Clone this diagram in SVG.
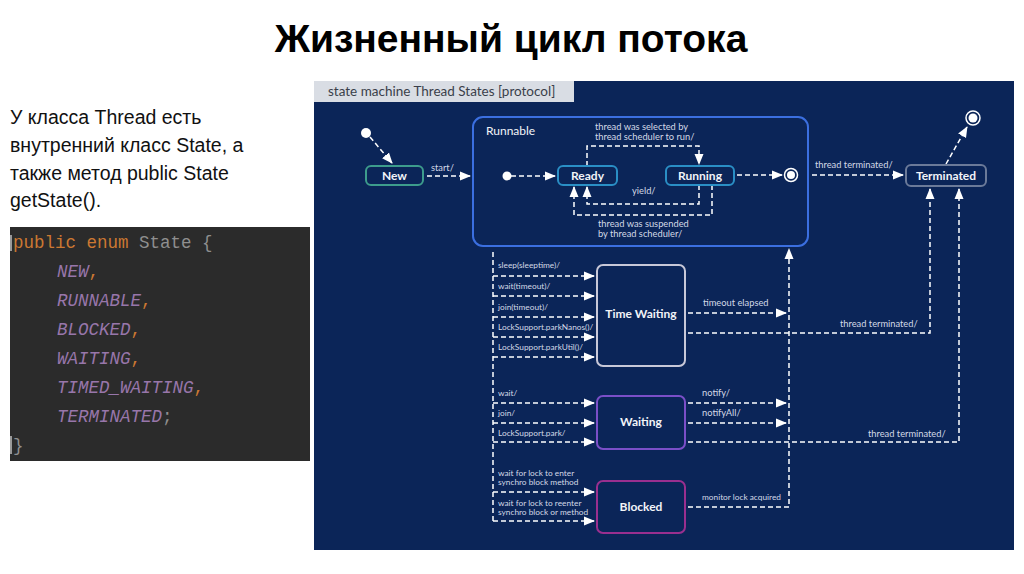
<svg xmlns="http://www.w3.org/2000/svg" width="1024" height="574" viewBox="0 0 1024 574">
<defs>
<marker id="ah" markerUnits="userSpaceOnUse" markerWidth="11" markerHeight="10" refX="10" refY="5" orient="auto">
<path d="M0,0.5 L11,5 L0,9.5 Z" fill="#ffffff"/>
</marker>
<style>
.title{font-family:"Liberation Sans",Arial,sans-serif;font-weight:bold;font-size:39px;fill:#000}
.desc{font-family:"Liberation Sans",Arial,sans-serif;font-size:19.5px;fill:#111}
.code{font-family:"Liberation Mono","DejaVu Sans Mono",monospace;font-size:17.5px}
.kw{fill:#cc7832}
.id{fill:#8f8f8f}
.en{fill:#9876aa;font-style:italic}
.pn{fill:#cc7832}
.tab{font-family:Lato,"Liberation Sans",sans-serif;font-size:13.5px;fill:#3a3f4a}
.node{font-family:Lato,"Liberation Sans",sans-serif;font-weight:bold;font-size:12px;fill:#f2f4f8;text-anchor:middle}
.lbl{font-family:Lato,"Liberation Sans",sans-serif;font-size:9.3px;fill:#d3d9e6}
.sm{font-family:Lato,"Liberation Sans",sans-serif;font-size:8.3px;fill:#d3d9e6}
.box{fill:#0b2558;stroke-width:2}
.conn{fill:none;stroke:#ffffff;stroke-width:1.5;stroke-dasharray:5 3}
</style>
</defs>
<rect width="1024" height="574" fill="#ffffff"/>
<text class="title" x="511" y="52" text-anchor="middle">Жизненный цикл потока</text>

<g id="description">
<text class="desc" x="10" y="124">У класса Thread есть</text>
<text class="desc" x="10" y="152">внутренний класс State, а</text>
<text class="desc" x="10" y="180">также метод public State</text>
<text class="desc" x="10" y="207">getState().</text>
</g>

<g id="code">
<rect x="10" y="227" width="300" height="234" fill="#2b2b2b"/>
<rect x="10" y="235" width="2" height="16" fill="#9a9a9a"/>
<rect x="10" y="436" width="2" height="18" fill="#9a9a9a"/>
<text class="code" x="13" y="248"><tspan class="kw">public enum </tspan><tspan class="id">State {</tspan></text>
<text class="code" x="57" y="277"><tspan class="en">NEW</tspan><tspan class="pn">,</tspan></text>
<text class="code" x="57" y="306"><tspan class="en">RUNNABLE</tspan><tspan class="pn">,</tspan></text>
<text class="code" x="57" y="335"><tspan class="en">BLOCKED</tspan><tspan class="pn">,</tspan></text>
<text class="code" x="57" y="364"><tspan class="en">WAITING</tspan><tspan class="pn">,</tspan></text>
<text class="code" x="57" y="393"><tspan class="en">TIMED_WAITING</tspan><tspan class="pn">,</tspan></text>
<text class="code" x="57" y="422"><tspan class="en">TERMINATED</tspan><tspan class="id">;</tspan></text>
<text class="code" x="13" y="451"><tspan class="id">}</tspan></text>
</g>

<g id="panel">
<rect x="314" y="81" width="700" height="469" fill="#0b2558"/>
<rect x="314" y="81" width="260" height="21" fill="#d9dde4"/>
<text class="tab" x="328" y="96">state machine Thread States [protocol]</text>
</g>

<g id="connectors">
<path class="conn" marker-end="url(#ah)" d="M370,137 L392,163"/>
<path class="conn" marker-end="url(#ah)" d="M427,176 H470"/>
<path class="conn" marker-end="url(#ah)" d="M511,176 H555"/>
<path class="conn" marker-end="url(#ah)" d="M587,166 V146 H699 V164"/>
<path class="conn" marker-end="url(#ah)" d="M699,185 V204 H587 V187"/>
<path class="conn" marker-end="url(#ah)" d="M712,185 V215 H574 V187"/>
<path class="conn" marker-end="url(#ah)" d="M737,175 H782"/>
<path class="conn" marker-end="url(#ah)" d="M812,175 H903"/>
<path class="conn" marker-end="url(#ah)" d="M946,164 L967,127"/>
<path class="conn" d="M493,252 V522"/>
<path class="conn" marker-end="url(#ah)" d="M493,276 H594"/>
<path class="conn" marker-end="url(#ah)" d="M493,296 H594"/>
<path class="conn" marker-end="url(#ah)" d="M493,317 H594"/>
<path class="conn" marker-end="url(#ah)" d="M493,337 H594"/>
<path class="conn" marker-end="url(#ah)" d="M493,357 H594"/>
<path class="conn" marker-end="url(#ah)" d="M493,403 H594"/>
<path class="conn" marker-end="url(#ah)" d="M493,423 H594"/>
<path class="conn" marker-end="url(#ah)" d="M493,442 H594"/>
<path class="conn" marker-end="url(#ah)" d="M493,492 H594"/>
<path class="conn" marker-end="url(#ah)" d="M493,521 H594"/>
<path class="conn" marker-end="url(#ah)" d="M688,313 H786"/>
<path class="conn" marker-end="url(#ah)" d="M688,403 H786"/>
<path class="conn" marker-end="url(#ah)" d="M688,423 H786"/>
<path class="conn" marker-end="url(#ah)" d="M688,507 H789 V249"/>
<path class="conn" marker-end="url(#ah)" d="M688,333 H930 V189"/>
<path class="conn" marker-end="url(#ah)" d="M688,442 H959 V189"/>
<text class="lbl" x="431" y="171">start/</text>
<text class="lbl" x="595" y="130">thread was selected by</text>
<text class="lbl" x="595" y="139.5">thread scheduler to run/</text>
<text class="lbl" x="632" y="194">yield/</text>
<text class="lbl" x="598" y="227">thread was suspended</text>
<text class="lbl" x="598" y="236.5">by thread scheduler/</text>
<text class="lbl" x="815" y="168">thread terminated/</text>
<text class="sm" x="498" y="268">sleep(sleeptime)/</text>
<text class="sm" x="498" y="289">wait(timeout)/</text>
<text class="sm" x="498" y="310">join(timeout)/</text>
<text class="sm" x="498" y="330">LockSupport.parkNanos()/</text>
<text class="sm" x="498" y="350">LockSupport.parkUtil()/</text>
<text class="sm" x="498" y="396">wait/</text>
<text class="sm" x="498" y="416">join/</text>
<text class="sm" x="498" y="436">LockSupport.park/</text>
<text class="sm" x="498" y="476">wait for lock to enter</text>
<text class="sm" x="498" y="485">synchro block method</text>
<text class="sm" x="498" y="506">wait for lock to reenter</text>
<text class="sm" x="498" y="515">synchro block or method</text>
<text class="lbl" x="703" y="306">timeout elapsed</text>
<text class="lbl" x="840" y="327">thread terminated/</text>
<text class="lbl" x="702" y="396">notify/</text>
<text class="lbl" x="702" y="416">notifyAll/</text>
<text class="lbl" x="868" y="437">thread terminated/</text>
<text class="sm" x="702" y="500">monitor lock acquired</text>
</g>

<g id="initial-new"><circle cx="366" cy="133" r="5" fill="#ffffff"/></g>
<g id="new"><rect class="box" x="366" y="166" width="57" height="19" rx="5" stroke="#3d9c8c"/><text class="node" x="394.5" y="180">New</text></g>
<g id="runnable"><rect x="473" y="117" width="335" height="129" rx="10" fill="none" stroke="#3b6fe0" stroke-width="2"/><text class="node" x="486" y="135" style="font-weight:normal;text-anchor:start">Runnable</text></g>
<g id="initial-ready"><circle cx="507" cy="176" r="4.5" fill="#ffffff"/></g>
<g id="ready"><rect class="box" x="558" y="166" width="59" height="19" rx="5" stroke="#2a8fc5"/><text class="node" x="587.5" y="180">Ready</text></g>
<g id="running"><rect class="box" x="666" y="166" width="68" height="19" rx="5" stroke="#2a8fc5"/><text class="node" x="700" y="180">Running</text></g>
<g id="final-runnable"><circle cx="791" cy="175" r="6.5" fill="none" stroke="#ffffff" stroke-width="1.5"/><circle cx="791" cy="175" r="4" fill="#ffffff"/></g>
<g id="terminated"><rect class="box" x="906" y="165" width="80" height="21" rx="5" stroke="#6b7a99"/><text class="node" x="946" y="180">Terminated</text></g>
<g id="final-terminated"><circle cx="973" cy="118" r="7" fill="none" stroke="#ffffff" stroke-width="1.5"/><circle cx="973" cy="118" r="4.5" fill="#ffffff"/></g>
<g id="time-waiting"><rect class="box" x="597" y="265" width="88" height="101" rx="6" stroke="#c8c8d8"/><text class="node" x="641" y="318">Time Waiting</text></g>
<g id="waiting"><rect class="box" x="597" y="396" width="88" height="53" rx="6" stroke="#7b4fc8"/><text class="node" x="641" y="426">Waiting</text></g>
<g id="blocked"><rect class="box" x="597" y="481" width="88" height="52" rx="6" stroke="#9a2f8f"/><text class="node" x="641" y="511">Blocked</text></g>
</svg>
